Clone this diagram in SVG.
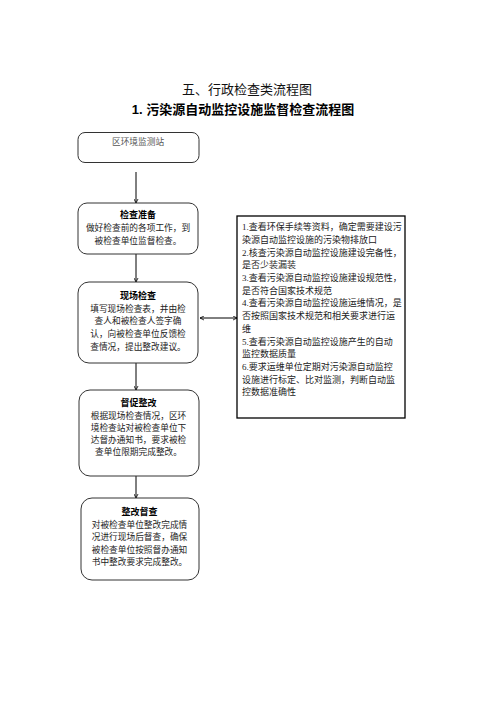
<svg xmlns="http://www.w3.org/2000/svg" width="496" height="702" viewBox="0 0 496 702">
<style>
text{font-family:"Liberation Serif","Noto Sans CJK SC",serif;fill:#222}
.t1{font-family:"Noto Sans CJK SC",sans-serif;font-size:13px;text-anchor:middle;fill:#111}
.t2{font-family:"Liberation Sans","Noto Sans CJK SC",sans-serif;font-size:13px;font-weight:bold;text-anchor:middle;fill:#000}
.box{fill:#fff;stroke:#333;stroke-width:1}
.rbox{fill:#fff;stroke:#000;stroke-width:1.3}
.c{font-size:8.7px;text-anchor:middle}
.h{font-size:9px;font-weight:bold;text-anchor:middle;fill:#000}
.r{font-size:9px}
.ln{stroke:#000;stroke-width:1;fill:none}
</style>
<defs>
<marker id="ah" viewBox="0 0 10 10" refX="9" refY="5" markerWidth="5" markerHeight="5" orient="auto-start-reverse" markerUnits="userSpaceOnUse">
<path d="M1,1 L9,5 L1,9" fill="none" stroke="#000" stroke-width="1.6"/>
</marker>
</defs>
<text class="t1" x="247" y="93.5">五、行政检查类流程图</text>
<text class="t2" x="243" y="114">1. 污染源自动监控设施监督检查流程图</text>

<g id="connectors">
<line class="ln" x1="136" y1="172" x2="136" y2="203" marker-end="url(#ah)"/>
<line class="ln" x1="136" y1="254" x2="136" y2="282" marker-end="url(#ah)"/>
<line class="ln" x1="136" y1="363" x2="136" y2="390" marker-end="url(#ah)"/>
<line class="ln" x1="136" y1="476" x2="136" y2="498" marker-end="url(#ah)"/>
<line class="ln" x1="200" y1="318" x2="237" y2="318" marker-start="url(#ah)" marker-end="url(#ah)"/>
</g>

<g id="node1">
<rect class="box" x="78" y="132.5" width="121" height="30" rx="7"/>
<text class="c" x="138" y="145.2" style="fill:#555">区环境监测站</text>
</g>

<g id="node2">
<rect class="box" x="78" y="203" width="120" height="51" rx="9"/>
<text class="h" x="138" y="218.2">检查准备</text>
<text class="c" x="138" y="231.2">做好检查前的各项工作，到</text>
<text class="c" x="138" y="244.2">被检查单位监督检查。</text>
</g>

<g id="node3">
<rect class="box" x="78" y="282" width="120" height="81" rx="11"/>
<text class="h" x="138" y="299.2">现场检查</text>
<text class="c" x="138" y="311.5">填写现场检查表，并由检</text>
<text class="c" x="138" y="324.3">查人和被检查人签字确</text>
<text class="c" x="138" y="337.1">认，向被检查单位反馈检</text>
<text class="c" x="138" y="349.9">查情况，提出整改建议。</text>
</g>

<g id="node4">
<rect class="box" x="79" y="390" width="120" height="86" rx="11"/>
<text class="h" x="138.5" y="406.2">督促整改</text>
<text class="c" x="138.5" y="418.5">根据现场检查情况，区环</text>
<text class="c" x="138.5" y="430.8">境检查站对被检查单位下</text>
<text class="c" x="138.5" y="443.1">达督办通知书，要求被检</text>
<text class="c" x="138.5" y="455.4">查单位限期完成整改。</text>
</g>

<g id="node5">
<rect class="box" x="81" y="498" width="118" height="82" rx="11"/>
<text class="h" x="139.5" y="515.2">整改督查</text>
<text class="c" x="139.5" y="527.7">对被检查单位整改完成情</text>
<text class="c" x="139.5" y="540.2">况进行现场后督查，确保</text>
<text class="c" x="139.5" y="552.7">被检查单位按照督办通知</text>
<text class="c" x="139.5" y="565.2">书中整改要求完成整改。</text>
</g>

<g id="node6">
<rect class="rbox" x="237" y="216" width="168" height="202"/>
<text class="r" x="242" y="230.2">1.查看环保手续等资料，确定需要建设污</text>
<text class="r" x="242" y="242.9">染源自动监控设施的污染物排放口</text>
<text class="r" x="242" y="255.6">2.核查污染源自动监控设施建设完备性，</text>
<text class="r" x="242" y="268.3">是否少装漏装</text>
<text class="r" x="242" y="281.0">3.查看污染源自动监控设施建设规范性，</text>
<text class="r" x="242" y="293.7">是否符合国家技术规范</text>
<text class="r" x="242" y="306.4">4.查看污染源自动监控设施运维情况，是</text>
<text class="r" x="242" y="319.1">否按照国家技术规范和相关要求进行运</text>
<text class="r" x="242" y="331.8">维</text>
<text class="r" x="242" y="344.5">5.查看污染源自动监控设施产生的自动</text>
<text class="r" x="242" y="357.2">监控数据质量</text>
<text class="r" x="242" y="369.9">6.要求运维单位定期对污染源自动监控</text>
<text class="r" x="242" y="382.6">设施进行标定、比对监测，判断自动监</text>
<text class="r" x="242" y="395.3">控数据准确性</text>
</g>
</svg>
